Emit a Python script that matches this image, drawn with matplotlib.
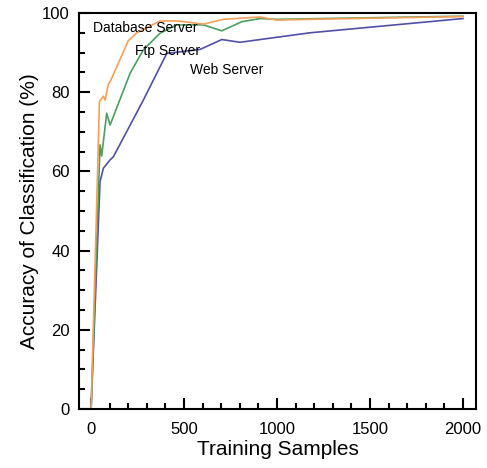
import numpy as np
import matplotlib.pyplot as plt
from matplotlib.ticker import MultipleLocator

plt.rcParams['font.family'] = ['Liberation Sans', 'DejaVu Sans']

# series
db_x = [0, 45, 66, 75, 93, 106, 200, 246, 371, 461, 604, 712, 909, 998, 1177, 2000]
db_y = [0, 77.6, 79, 78, 82, 83, 93, 95, 98, 98, 97.2, 98.4, 99, 98.2, 98.4, 99.1]

ftp_x = [0, 48, 57, 84, 102, 210, 281, 371, 461, 604, 703, 810, 909, 998, 2000]
ftp_y = [0, 66.7, 63.9, 74.7, 71.7, 84.8, 90.7, 94.9, 97, 97, 95.5, 97.8, 98.6, 98.4, 99.2]

web_x = [0, 48, 66, 102, 120, 281, 407, 586, 703, 801, 909, 1177, 2000]
web_y = [0, 57.4, 60.8, 62.9, 63.7, 78, 89.8, 90.8, 93.3, 92.6, 93.3, 95, 98.6]

fig = plt.figure(figsize=(4.87, 4.68), dpi=100)
ax = fig.add_axes([79/487, 1 - 409/468, (476-79)/487, (409-13)/468])

ax.plot(web_x, web_y, color='#5050aa', lw=1.2)
ax.plot(ftp_x, ftp_y, color='#4c9f5f', lw=1.2)
ax.plot(db_x, db_y, color='#f5a05a', lw=1.2)

ax.text(290, 96.2, 'Database Server', fontsize=10, ha='center', va='center')
ax.text(409, 90.4, 'Ftp Server', fontsize=10, ha='center', va='center')
ax.text(731, 85.6, 'Web Server', fontsize=10, ha='center', va='center')

ax.set_xlim(-65, 2070)
ax.set_ylim(0, 100)
ax.set_xticks(np.arange(0, 2001, 500))
ax.set_yticks(np.arange(0, 101, 20))
ax.xaxis.set_minor_locator(MultipleLocator(100))
ax.yaxis.set_minor_locator(MultipleLocator(5))
ax.tick_params(which='both', direction='in', width=1.5, labelsize=12)
ax.tick_params(which='major', length=8)
ax.tick_params(which='minor', length=4)
ax.tick_params(axis='x', which='major', pad=9.5)
ax.tick_params(axis='y', which='major', pad=6.5)
for s in ax.spines.values():
    s.set_linewidth(1.5)

ax.set_xlabel('Training Samples', fontsize=15, labelpad=2)
ax.set_ylabel('Accuracy of Classification (%)', fontsize=15, labelpad=2)

plt.savefig('out.png', dpi=100)
